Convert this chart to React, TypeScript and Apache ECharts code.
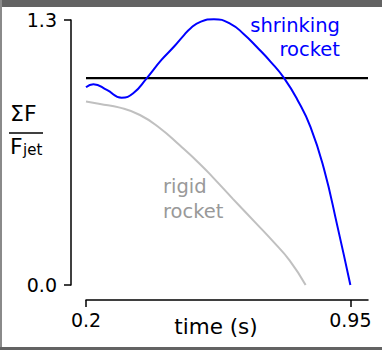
import React, { useEffect, useRef } from "react";
import * as echarts from "echarts";

const FONT = "DejaVu Sans";

// x ticks / y ticks
const xTicks = [0.2, 0.95];
const yTicks = [0.0, 1.3];

// shrinking rocket
const timeShrink = [0.2, 0.221, 0.259, 0.301, 0.334, 0.372, 0.414, 0.45, 0.475, 0.497, 0.526, 0.563, 0.611, 0.648, 0.686, 0.724, 0.762, 0.8, 0.837, 0.875, 0.913, 0.95];
const forceShrink = [0.97, 0.985, 0.957, 0.919, 0.941, 1.014, 1.104, 1.17, 1.22, 1.26, 1.292, 1.304, 1.28, 1.23, 1.165, 1.095, 1.015, 0.908, 0.775, 0.57, 0.29, 0.0];

// rigid rocket
const timeRigid = [0.2, 0.24, 0.296, 0.353, 0.41, 0.466, 0.523, 0.56, 0.616, 0.684, 0.73, 0.778, 0.823];
const forceRigid = [0.9, 0.888, 0.87, 0.834, 0.769, 0.685, 0.594, 0.528, 0.424, 0.3, 0.215, 0.12, 0.0];

// reference line
const refTime = [0.2, 1.0];
const refForce = [1.015, 1.015];

const zip = (a: number[], b: number[]) => a.map((v, i) => [v, b[i]]);

export default function App() {
  const ref = useRef<HTMLDivElement>(null);
  useEffect(() => {
    if (!ref.current) return;
    const chart = echarts.init(ref.current, null, { renderer: "svg" });
    chart.setOption({
      animation: false,
      backgroundColor: "#fff",
      grid: { left: 86, right: 14, top: 20, bottom: 65, containLabel: false },
      xAxis: {
        type: "value",
        min: 0.2,
        max: 1.0,
        offset: 15,
        splitLine: { show: false },
        axisLine: { show: true, onZero: false, lineStyle: { color: "#000", width: 1.5 } },
        axisTick: { show: true, inside: false, length: 7, customValues: xTicks, lineStyle: { color: "#000", width: 1.5 } },
        axisLabel: {
          customValues: xTicks,
          formatter: (v: number) => (Math.abs(v - 0.95) < 1e-6 ? "0.95" : v.toFixed(1)),
          fontFamily: FONT,
          fontSize: 19,
          color: "#000",
          margin: 10,
          showMinLabel: true,
          showMaxLabel: true,
        },
      },
      yAxis: {
        type: "value",
        min: 0,
        max: 1.3,
        offset: 15,
        splitLine: { show: false },
        axisLine: { show: true, onZero: false, lineStyle: { color: "#000", width: 1.5 } },
        axisTick: { show: true, inside: false, length: 7, customValues: yTicks, lineStyle: { color: "#000", width: 1.5 } },
        axisLabel: {
          customValues: yTicks,
          formatter: (v: number) => v.toFixed(1),
          fontFamily: FONT,
          fontSize: 19,
          color: "#000",
          margin: 14,
          showMinLabel: true,
          showMaxLabel: true,
        },
      },
      series: [
        {
          type: "line",
          data: zip(refTime, refForce),
          showSymbol: false,
          lineStyle: { color: "#000", width: 2.2 },
          clip: false,
        },
        {
          type: "line",
          data: zip(timeRigid, forceRigid),
          showSymbol: false,
          smooth: 0.5,
          lineStyle: { color: "#c0c0c0", width: 2 },
          clip: false,
        },
        {
          type: "line",
          data: zip(timeShrink, forceShrink),
          showSymbol: false,
          smooth: 0.5,
          lineStyle: { color: "#0000ff", width: 2 },
          clip: false,
        },
      ],
      graphic: [
        { type: "rect", shape: { x: 0, y: 0, width: 382, height: 7 }, style: { fill: "#636363" }, silent: true },
        { type: "rect", shape: { x: 0, y: 0, width: 2, height: 350 }, style: { fill: "#8a8a8a" }, silent: true },
        { type: "rect", shape: { x: 0, y: 347, width: 382, height: 3 }, style: { fill: "#636363" }, silent: true },
        { type: "text", x: 340, y: 25, style: { text: "shrinking", fill: "#0000ff", font: `19.5px '${FONT}'`, align: "right", verticalAlign: "middle" } },
        { type: "text", x: 340, y: 49, style: { text: "rocket", fill: "#0000ff", font: `19.5px '${FONT}'`, align: "right", verticalAlign: "middle" } },
        { type: "text", x: 163, y: 186, style: { text: "rigid", fill: "#999999", font: `19.5px '${FONT}'`, align: "left", verticalAlign: "middle" } },
        { type: "text", x: 163, y: 211, style: { text: "rocket", fill: "#999999", font: `19.5px '${FONT}'`, align: "left", verticalAlign: "middle" } },
        { type: "text", x: 216, y: 326, style: { text: "time (s)", fill: "#000", font: `21.5px '${FONT}'`, align: "center", verticalAlign: "middle" } },
        { type: "text", x: 10, y: 113, style: { text: "ΣF", fill: "#000", font: `22px '${FONT}'`, align: "left", verticalAlign: "middle" } },
        { type: "line", shape: { x1: 9, y1: 133, x2: 43, y2: 133 }, style: { stroke: "#000", lineWidth: 1.5 } },
        { type: "text", x: 10, y: 146, style: { text: "F", fill: "#000", font: `22px '${FONT}'`, align: "left", verticalAlign: "middle" } },
        { type: "text", x: 23, y: 150, style: { text: "jet", fill: "#000", font: `15px '${FONT}'`, align: "left", verticalAlign: "middle" } },
      ],
    });
    return () => chart.dispose();
  }, []);
  return <div ref={ref} style={{ position: "absolute", left: 0, top: 0, width: 382, height: 350 }} />;
}
